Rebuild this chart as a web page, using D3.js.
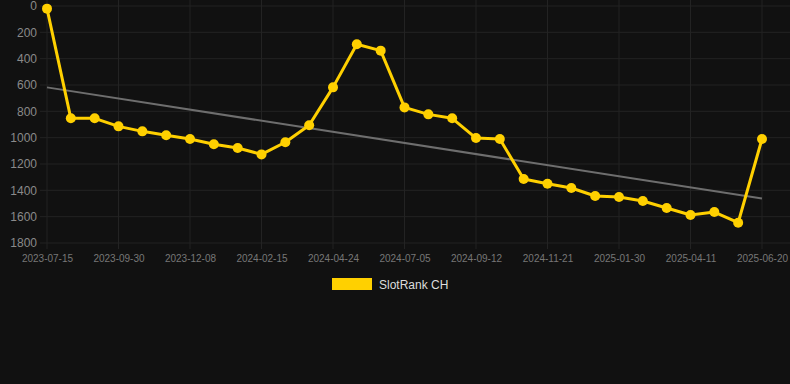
<!DOCTYPE html>
<html>
<head>
<meta charset="utf-8">
<script src="https://cdn.jsdelivr.net/npm/d3@7"></script>
<style>
  html, body { margin: 0; padding: 0; background: #111111; }
  #chart { width: 790px; height: 384px; }
  text { font-family: "Liberation Sans", Arial, sans-serif; }
</style>
</head>
<body>
<div id="chart"></div>
<script>
// dates of each sample (only every third one gets a label)
var dates = ["2023-07-15", "2023-08-07", "2023-08-30", "2023-09-30", "2023-10-23", "2023-11-15",
  "2023-12-08", "2023-12-31", "2024-01-23", "2024-02-15", "2024-03-09", "2024-04-01",
  "2024-04-24", "2024-05-17", "2024-06-12", "2024-07-05", "2024-07-28", "2024-08-20",
  "2024-09-12", "2024-10-05", "2024-10-28", "2024-11-21", "2024-12-14", "2025-01-06",
  "2025-01-30", "2025-02-22", "2025-03-17", "2025-04-11", "2025-05-04", "2025-05-27",
  "2025-06-20"];
var rank = [20, 853, 853, 914, 952, 982, 1010, 1050, 1078, 1127, 1035, 906, 618, 291, 339,
  770, 823, 853, 1003, 1010, 1314, 1350, 1382, 1443, 1451, 1481, 1534, 1587, 1565, 1646, 1010];
var yTicks = [0, 200, 400, 600, 800, 1000, 1200, 1400, 1600, 1800];
var seriesName = "SlotRank CH";

var W = 790, H = 384;
var pLeft = 47, pRight = 762, pTop = 6, pBottom = 243;

var svg = d3.select("#chart").append("svg")
  .attr("width", W).attr("height", H);

var x = d3.scalePoint().domain(dates).range([pLeft, pRight]);
var y = d3.scaleLinear().domain([0, 1800]).range([pTop, pBottom]);

// horizontal grid
svg.append("g").selectAll("line").data(yTicks).enter().append("line")
  .attr("x1", 40).attr("x2", W)
  .attr("y1", function(d) { return y(d); }).attr("y2", function(d) { return y(d); })
  .attr("stroke", "#232323").attr("stroke-width", 1);

// vertical grid, every third date
var xTicks = dates.filter(function(d, i) { return i % 3 == 0; });
svg.append("g").selectAll("line").data(xTicks).enter().append("line")
  .attr("x1", function(d) { return x(d); }).attr("x2", function(d) { return x(d); })
  .attr("y1", 0).attr("y2", pBottom + 6)
  .attr("stroke", "#232323").attr("stroke-width", 1);

// y labels
var yAxis = svg.append("g")
  .attr("transform", "translate(" + (pLeft - 10) + ",0)")
  .call(d3.axisLeft(y).tickValues(yTicks).tickFormat(d3.format("d")).tickSize(0).tickPadding(0));
yAxis.select(".domain").remove();
yAxis.selectAll("text").attr("fill", "#8a8a8a").style("font-size", "12px");

// x labels
var xAxis = svg.append("g")
  .attr("transform", "translate(0," + (pBottom + 12) + ")")
  .call(d3.axisBottom(x).tickValues(xTicks).tickSize(0).tickPadding(0));
xAxis.select(".domain").remove();
xAxis.selectAll("text").attr("fill", "#777").style("font-size", "10px");

// trend line (least squares over index)
var n = rank.length;
var mx = d3.mean(d3.range(n)), my = d3.mean(rank);
var sxy = d3.sum(rank, function(v, i) { return (i - mx) * (v - my); });
var sxx = d3.sum(d3.range(n), function(i) { return (i - mx) * (i - mx); });
var slope = sxy / sxx, icpt = my - slope * mx;
var trend = [dates[0], dates[n - 1]];
svg.append("path")
  .datum(trend)
  .attr("fill", "none")
  .attr("stroke", "#6e6e6e")
  .attr("stroke-width", 2)
  .attr("d", d3.line()
    .x(function(d) { return x(d); })
    .y(function(d) { return y(icpt + slope * dates.indexOf(d)); }));

// main line
svg.append("path")
  .datum(rank)
  .attr("fill", "none")
  .attr("stroke", "#ffd000")
  .attr("stroke-width", 3)
  .attr("stroke-linejoin", "round")
  .attr("d", d3.line()
    .x(function(d, i) { return x(dates[i]); })
    .y(function(d) { return y(d); }));

svg.append("g").selectAll("circle").data(rank).enter().append("circle")
  .attr("cx", function(d, i) { return x(dates[i]); })
  .attr("cy", function(d) { return y(d); })
  .attr("r", 5)
  .attr("fill", "#ffd000");

// legend
var lg = svg.append("g");
lg.append("rect").attr("x", 332).attr("y", 278).attr("width", 40).attr("height", 12)
  .attr("fill", "#ffd000");
lg.append("text").attr("x", 379).attr("y", 288.5).text(seriesName)
  .attr("fill", "#dddddd").style("font-size", "12px");
</script>
</body>
</html>
